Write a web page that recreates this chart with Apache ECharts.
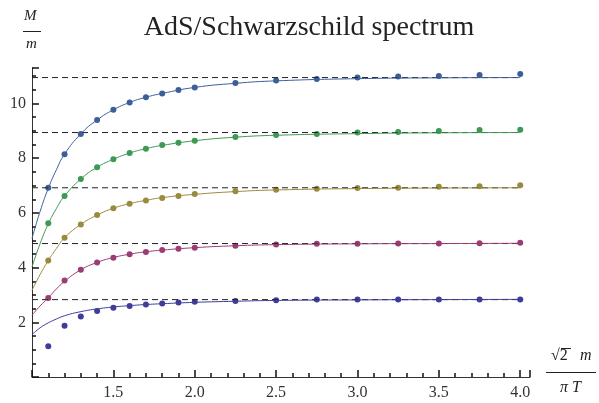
<!doctype html>
<html>
    <head>
        <meta charset="utf-8">
        <style>
            html, body { margin: 0; padding: 0; background: #fff; }
            #main { width: 599px; height: 403px; }
        </style>
    </head>
    <body>
        <div id="main"></div>
        <script src="https://cdn.jsdelivr.net/npm/echarts@6/dist/echarts.min.js"></script>
        <script>
            var chart = echarts.init(document.getElementById('main'));

            var serif = '"Liberation Serif", "DejaVu Serif", serif';
            var colors = ['#3e3d99', '#993d74', '#998b3d', '#3d9954', '#3d5e99'];

            // measured points
            var xs = [1.1, 1.2, 1.3, 1.4, 1.5, 1.6, 1.7, 1.8, 1.9, 2.0, 2.25, 2.5, 2.75, 3.0, 3.25, 3.5, 3.75, 4.0];
            var pts1 = [1.12, 1.87, 2.21, 2.41, 2.53, 2.60, 2.65, 2.69, 2.72, 2.75, 2.78, 2.81, 2.83, 2.83, 2.83, 2.83, 2.83, 2.83];
            var pts2 = [2.89, 3.53, 3.92, 4.19, 4.36, 4.49, 4.57, 4.64, 4.69, 4.73, 4.80, 4.85, 4.87, 4.87, 4.88, 4.88, 4.89, 4.91];
            var pts3 = [4.26, 5.09, 5.58, 5.92, 6.17, 6.34, 6.45, 6.55, 6.62, 6.69, 6.79, 6.85, 6.88, 6.91, 6.92, 6.96, 6.98, 7.01];
            var pts4 = [5.62, 6.62, 7.24, 7.67, 7.96, 8.19, 8.35, 8.48, 8.57, 8.64, 8.78, 8.85, 8.89, 8.94, 8.96, 9.00, 9.03, 9.04];
            var pts5 = [6.92, 8.15, 8.89, 9.40, 9.77, 10.04, 10.23, 10.37, 10.50, 10.59, 10.75, 10.84, 10.90, 10.95, 10.99, 11.01, 11.04, 11.08];

            var cx = [1.0, 1.05, 1.1, 1.15, 1.2, 1.3, 1.4, 1.5, 1.6, 1.7, 1.8, 2.0, 2.25, 2.5, 3.0, 3.5, 4.0];
            var fit1 = [1.55, 1.80, 1.98, 2.12, 2.24, 2.39, 2.49, 2.56, 2.61, 2.65, 2.68, 2.73, 2.77, 2.80, 2.82, 2.83, 2.84];
            var fit2 = [2.26, 2.60, 2.90, 3.22, 3.50, 3.92, 4.19, 4.37, 4.49, 4.58, 4.64, 4.73, 4.80, 4.84, 4.87, 4.88, 4.89];
            var fit3 = [3.17, 3.75, 4.26, 4.70, 5.09, 5.58, 5.92, 6.17, 6.34, 6.46, 6.56, 6.68, 6.78, 6.84, 6.89, 6.91, 6.92];
            var fit4 = [4.03, 4.88, 5.60, 6.16, 6.62, 7.24, 7.67, 7.96, 8.19, 8.35, 8.47, 8.64, 8.77, 8.84, 8.90, 8.93, 8.94];
            var fit5 = [5.07, 6.06, 6.90, 7.58, 8.15, 8.89, 9.40, 9.77, 10.04, 10.23, 10.37, 10.59, 10.74, 10.83, 10.91, 10.94, 10.95];

            // asymptotic levels (dashed)
            var levels = [2.83, 4.88, 6.92, 8.94, 10.95];
            var xFrom = 1.0, xTo = 4.0;

            var pts = [pts1, pts2, pts3, pts4, pts5];
            var fits = [fit1, fit2, fit3, fit4, fit5];

            function zip(a, b) {
                return a.map(function (v, i) { return [v, b[i]]; });
            }

            var series = [];
            levels.forEach(function (lv) {
                series.push({
                    type: 'line',
                    data: [[xFrom, lv], [xTo, lv]],
                    symbol: 'none',
                    silent: true,
                    lineStyle: { color: '#222', width: 1, type: [6, 4] }
                });
            });
            fits.forEach(function (f, i) {
                series.push({
                    type: 'line',
                    data: zip(cx, f),
                    symbol: 'none',
                    smooth: 0.5,
                    lineStyle: { color: colors[i], width: 1 }
                });
            });
            pts.forEach(function (p, i) {
                series.push({
                    type: 'scatter',
                    data: zip(xs, p),
                    symbolSize: 6,
                    itemStyle: { color: colors[i], opacity: 1 }
                });
            });

            chart.setOption({
                animation: false,
                title: {
                    text: 'AdS/Schwarzschild spectrum',
                    left: 304,
                    top: 9,
                    textAlign: 'center',
                    textStyle: { fontFamily: serif, fontWeight: 'normal', fontSize: 28, color: '#222' }
                },
                grid: { left: 32, right: 69, top: 68, bottom: 26 },
                xAxis: {
                    type: 'value',
                    min: 1,
                    max: 4.06,
                    interval: 0.5,
                    axisLine: { lineStyle: { color: '#333', width: 1 } },
                    axisTick: { show: true, inside: true, length: 7, lineStyle: { color: '#111', width: 1.5 } },
                    minorTick: { show: true, splitNumber: 5, length: 4, lineStyle: { color: '#111', width: 1.5 } },
                    splitLine: { show: false },
                    axisLabel: {
                        fontFamily: serif, fontSize: 16, color: '#333', margin: 8,
                        showMaxLabel: false,
                        formatter: function (v) {
                            if (v <= 1 || Math.abs(v * 2 - Math.round(v * 2)) > 1e-6) return '';
                            return v.toFixed(1);
                        }
                    }
                },
                yAxis: {
                    type: 'value',
                    min: 0,
                    max: 11.3,
                    interval: 2,
                    axisLine: { show: true, lineStyle: { color: '#333', width: 1 } },
                    axisTick: { show: true, inside: true, length: 7, lineStyle: { color: '#111', width: 1.5 } },
                    minorTick: { show: true, splitNumber: 4, length: 4, lineStyle: { color: '#111', width: 1.5 } },
                    splitLine: { show: false },
                    axisLabel: {
                        fontFamily: serif, fontSize: 16, color: '#333', margin: 6,
                        showMaxLabel: false,
                        formatter: function (v) {
                            if (v === 0 || v % 2 !== 0) return '';
                            return String(v);
                        }
                    }
                },
                graphic: [
                    { type: 'text', left: 24, top: 9, style: { text: 'M', font: 'italic 15px ' + serif, fill: '#222' } },
                    { type: 'rect', shape: { x: 23, y: 31, width: 18, height: 1 }, style: { fill: '#222' } },
                    { type: 'text', left: 26, top: 37, style: { text: 'm', font: 'italic 15px ' + serif, fill: '#222' } },
                    { type: 'text', left: 551, top: 348, style: { text: '\u221A2', font: '16px ' + serif, fill: '#222' } },
                    { type: 'rect', shape: { x: 561, y: 348, width: 10, height: 1 }, style: { fill: '#222' } },
                    { type: 'text', left: 580, top: 348, style: { text: 'm', font: 'italic 16px ' + serif, fill: '#222' } },
                    { type: 'rect', shape: { x: 546, y: 372, width: 50, height: 1 }, style: { fill: '#222' } },
                    { type: 'text', left: 560, top: 380, style: { text: '\u03C0 T', font: 'italic 16px ' + serif, fill: '#222' } }
                ],
                series: series
            });

            window.onresize = chart.resize;
        </script>
    </body>
</html>
